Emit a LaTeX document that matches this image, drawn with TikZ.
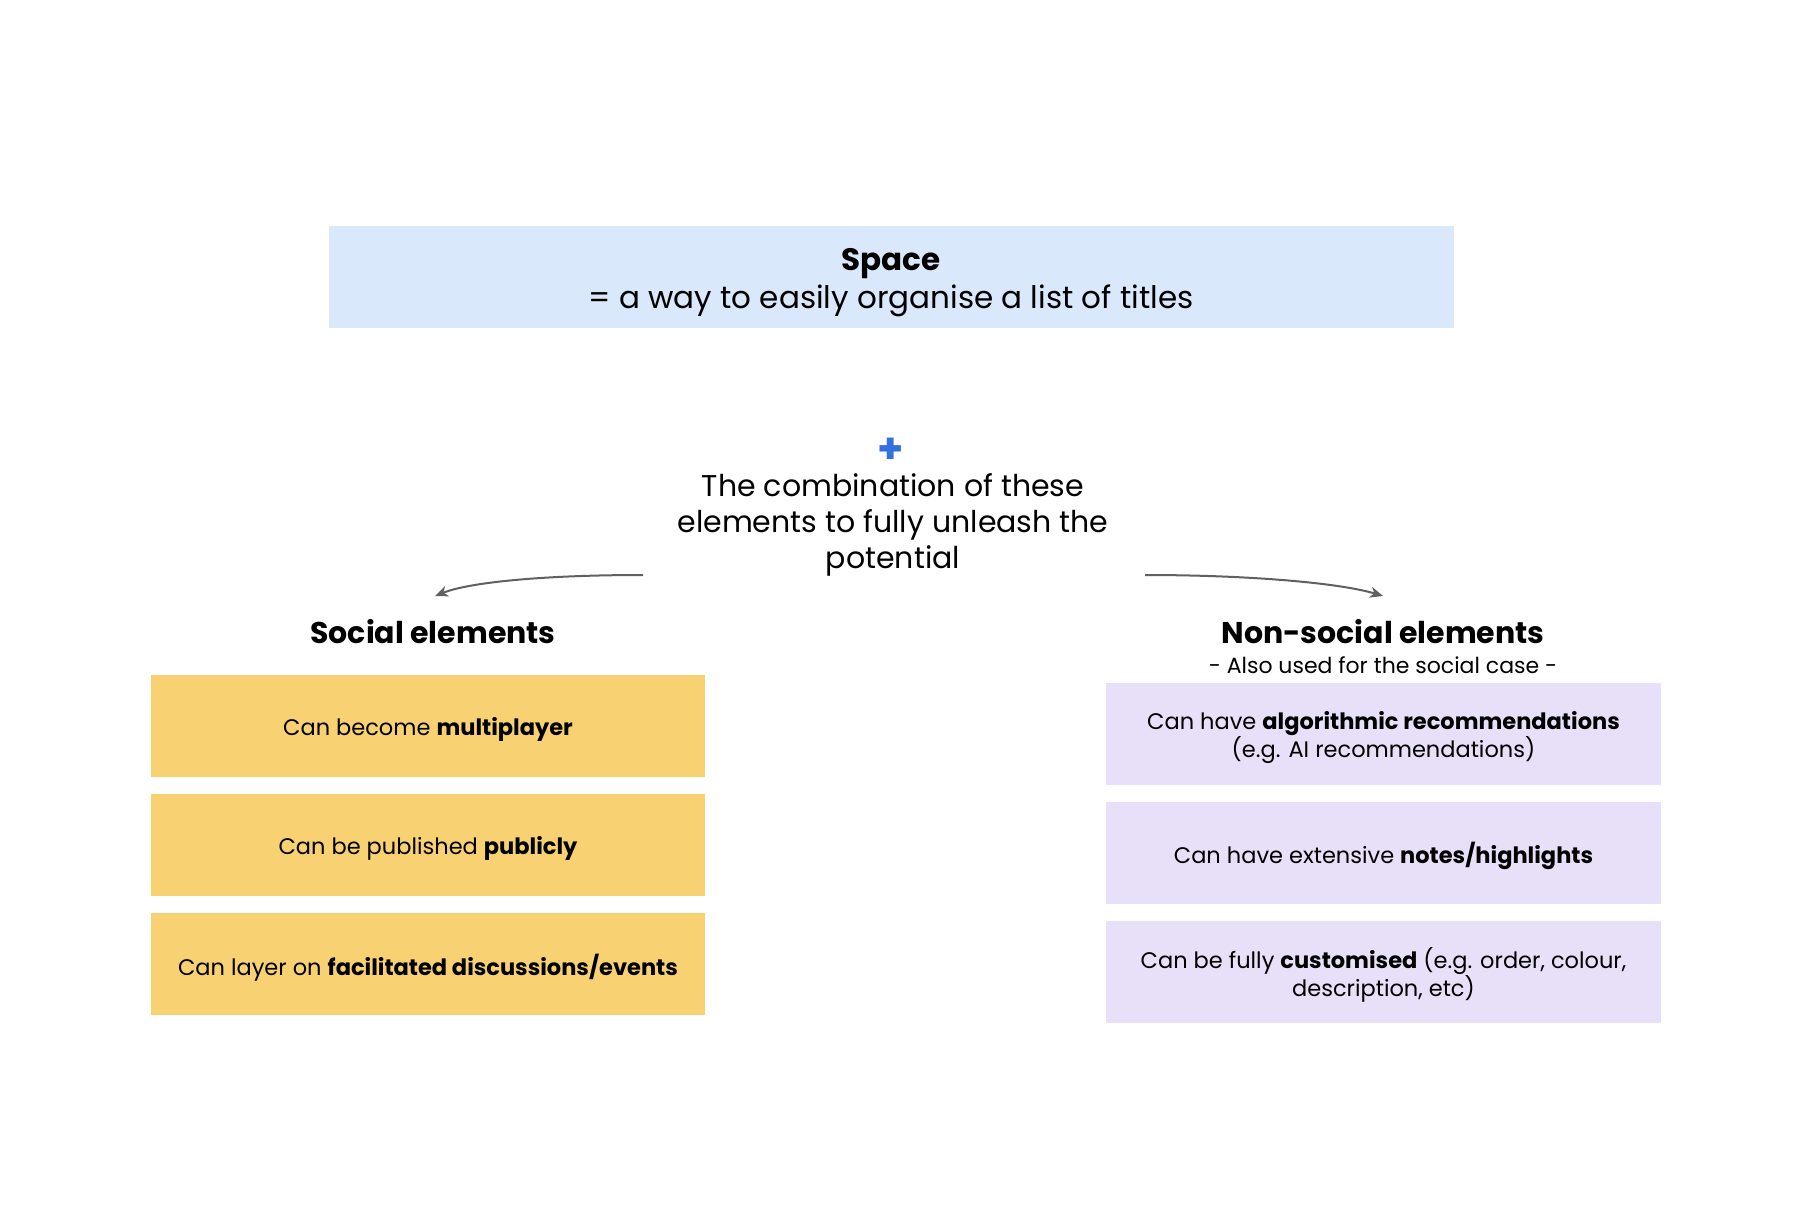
\documentclass[tikz,border=0pt]{standalone}
\usepackage{fontspec}
\setmainfont{Poppins}
\usetikzlibrary{arrows.meta}
\definecolor{topblue}{HTML}{DAE8FC}
\definecolor{socyellow}{HTML}{F8D172}
\definecolor{nonpurple}{HTML}{E8DFF8}
\definecolor{plusblue}{HTML}{3570E0}
\definecolor{arrowgray}{HTML}{606060}
\tikzset{
  topbox/.style={fill=topblue, minimum width=1125pt, minimum height=102pt, inner sep=0pt},
  sbox/.style={fill=socyellow, minimum width=554pt, minimum height=102pt, inner sep=0pt},
  nbox/.style={fill=nonpurple, minimum width=555pt, minimum height=102pt, inner sep=0pt},
  boxtext/.style={inner sep=0pt, align=center, font=\fontsize{22.5}{28}\selectfont, yshift=-3.5pt},
  plaintext/.style={inner sep=0pt, align=center},
  curvearrow/.style={draw=arrowgray, line width=2pt, -{Stealth[length=13pt,width=11pt,inset=4pt]}}
}
\begin{document}
\begin{tikzpicture}[x=1pt,y=-1pt]
\useasboundingbox (0,0) rectangle (1812,1221);
\fill[white] (0,0) rectangle (1812,1221);
% top box
\node[topbox] (top) at (891.5,277) {};
\node[plaintext, font=\bfseries\fontsize{31}{36}\selectfont] (space) at (891,263.5) {Space};
\node[plaintext, font=\fontsize{31}{36}\selectfont] (spacedef) at (891,300.5) {= a way to easily organise a list of titles};
% plus and combination text
\node[plaintext, text=plusblue, font=\bfseries\fontsize{42}{42}\selectfont] (plus) at (891,451) {+};
\node[plaintext, font=\fontsize{30}{36}\selectfont] (combo) at (893,524.5) {The combination of these\\elements to fully unleash the\\potential};
% titles
\node[plaintext, font=\bfseries\fontsize{30}{34}\selectfont] (social) at (433,632) {Social elements};
\node[plaintext, font=\bfseries\fontsize{30}{34}\selectfont] (nonsocial) at (1383,632) {Non-social elements};
\node[plaintext, font=\fontsize{22}{26}\selectfont] (nonsub) at (1383,665) {- Also used for the social case -};
% arrows
\coordinate (lstart) at (643,575);
\coordinate (lend) at (435,596);
\coordinate (rstart) at (1145,575);
\coordinate (rend) at (1383,596);
\draw[curvearrow] (lstart) .. controls (545,575) and (470,582) .. (lend);
\draw[curvearrow] (rstart) .. controls (1250,575) and (1340,583) .. (rend);
% social boxes
\node[sbox] (s1) at (428,726) {};
\node[boxtext] (s1t) at (s1) {Can become \textbf{multiplayer}};
\node[sbox] (s2) at (428,845) {};
\node[boxtext] (s2t) at (s2) {Can be published \textbf{publicly}};
\node[sbox] (s3) at (428,964) {};
\node[boxtext] (s3t) at (s3) {Can layer on \textbf{facilitated discussions/events}};
% non-social boxes
\node[nbox] (n1) at (1383.5,734) {};
\node[boxtext] (n1t) at (n1) {Can have \textbf{algorithmic recommendations}\\(e.g. AI recommendations)};
\node[nbox] (n2) at (1383.5,852.5) {};
\node[boxtext] (n2t) at (n2) {Can have extensive \textbf{notes/highlights}};
\node[nbox] (n3) at (1383.5,971.5) {};
\node[boxtext] (n3t) at (n3) {Can be fully \textbf{customised} (e.g. order, colour,\\description, etc)};
\end{tikzpicture}
\end{document}
